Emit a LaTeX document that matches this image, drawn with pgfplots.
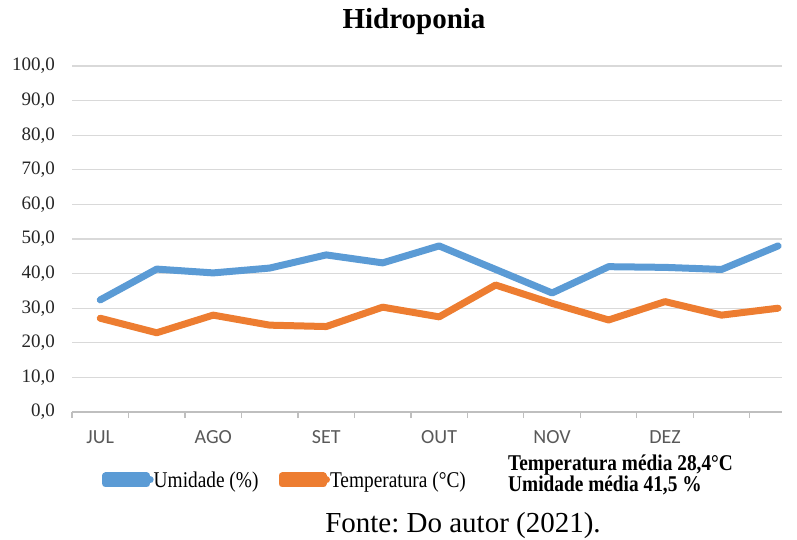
\documentclass[border=0pt]{standalone}
\usepackage{pgfplots}
\pgfplotsset{compat=1.18}
\usepackage{fontspec}
\setmainfont{Liberation Serif}
\newfontfamily\calibri{Carlito}
\newfontfamily\narrowserif[FakeStretch=0.86]{Liberation Serif}
\definecolor{cblue}{HTML}{5B9BD5}
\definecolor{corange}{HTML}{ED7D31}
\definecolor{gridc}{HTML}{D9D9D9}
\definecolor{axisc}{HTML}{BFBFBF}
\definecolor{labc}{HTML}{595959}
\frenchspacing
\begin{document}
\begin{tikzpicture}
\useasboundingbox (0pt,0pt) rectangle (797pt,539pt);
\begin{axis}[
  at={(72pt,127pt)}, anchor=south west,
  width=710pt, height=346pt, scale only axis,
  xmin=-0.5, xmax=12.07, ymin=0, ymax=100,
  clip=false,
  axis x line*=bottom, axis y line*=left,
  x axis line style={draw=axisc, line width=1.2pt, -},
  y axis line style={draw=none, -},
  xtick={0,2,4,6,8,10},
  xticklabels={JUL,AGO,SET,OUT,NOV,DEZ},
  minor xtick={-0.5,0.5,...,11.5},
  ytick={0,10,...,100},
  major tick length=0pt,
  minor tick length=6pt,
  tick align=outside,
  minor tick style={draw=axisc, line width=1.2pt},
  ymajorgrids, major grid style={draw=gridc, line width=1.2pt},
  y tick label style={/pgf/number format/fixed, /pgf/number format/fixed zerofill, /pgf/number format/precision=1, /pgf/number format/use comma, /pgf/number format/assume math mode=true},
  yticklabel style={font=\fontsize{19pt}{21pt}\selectfont, text=black!85, anchor=east, inner sep=0pt, xshift=-17pt},
  xticklabel style={font=\calibri\fontsize{20pt}{22pt}\selectfont, text=labc, anchor=base, inner sep=0pt, yshift=-31pt},
  legend style={draw=none, fill=none, inner sep=0pt, at={(0.0423,-0.1965)}, anchor=west,
    font=\narrowserif\fontsize{22.5pt}{24pt}\selectfont, nodes={inner sep=0pt},
    /tikz/every odd column/.append style={column sep=0pt},
    /tikz/every even column/.append style={column sep=20pt}},
  legend columns=2,
  legend image code/.code={\path (0pt,-4pt) rectangle (41pt,4pt); \draw[#1, line cap=round] (3.5pt,0pt) -- (44.5pt,0pt);},
]
\addplot[cblue, line width=7pt, line join=round, line cap=round] coordinates {
(0,32.4) (1,41.3) (2,40.2) (3,41.6) (4,45.4) (5,43.1) (6,48.0) (7,41.2) (8,34.4) (9,42.0) (10,41.8) (11,41.2) (12,48.0)};
\addlegendentry{Umidade (\%)}
\addplot[corange, line width=7pt, line join=round, line cap=round] coordinates {
(0,27.1) (1,22.9) (2,28.0) (3,25.1) (4,24.7) (5,30.3) (6,27.5) (7,36.7) (8,31.4) (9,26.6) (10,31.9) (11,28.0) (12,30.0)};
\addlegendentry{Temperatura (°C)}
\end{axis}
\node[anchor=base, inner sep=0pt, font=\bfseries\fontsize{29pt}{31pt}\selectfont] at (414pt,510pt) {Hidroponia};
\node[anchor=base west, inner sep=0pt, font=\narrowserif\bfseries\fontsize{22.5pt}{24pt}\selectfont] at (508pt,69pt) {Temperatura média 28,4°C};
\node[anchor=base west, inner sep=0pt, font=\narrowserif\bfseries\fontsize{22.5pt}{24pt}\selectfont] at (508pt,48pt) {Umidade média 41,5 \%};
\node[anchor=base, inner sep=0pt, font=\fontsize{29pt}{31pt}\selectfont] at (463pt,7pt) {Fonte: Do autor (2021).};
\end{tikzpicture}
\end{document}
